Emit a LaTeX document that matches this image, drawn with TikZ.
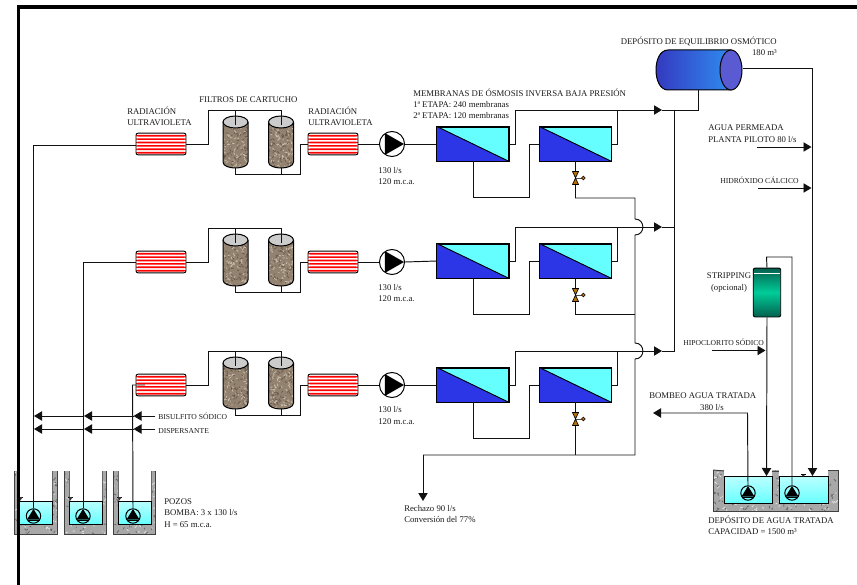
\documentclass[tikz,border=0pt]{standalone}
\usepackage{fontspec}
\setmainfont{Liberation Serif}
\usetikzlibrary{arrows.meta,shapes.geometric,calc}
\definecolor{memdark}{HTML}{2D36E6}
\definecolor{memlight}{HTML}{66FFFF}
\definecolor{valvec}{HTML}{B86E00}
\definecolor{pipec}{HTML}{111111}
\definecolor{gravel}{HTML}{93826F}
\definecolor{gravelL}{HTML}{C8BCAC}
\definecolor{gravelD}{HTML}{6A5B4E}
\definecolor{conc}{HTML}{A8A8A8}
\definecolor{tankL}{HTML}{3535BE}
\definecolor{tankR}{HTML}{2F8CF0}
\definecolor{tankE}{HTML}{5A5AD2}
\definecolor{stripD}{HTML}{04604E}
\definecolor{stripM}{HTML}{00CC99}
\tikzset{
 pipe/.style={line width=.72pt,draw=pipec},
 tip/.style={pipe,-{Triangle[length=6pt,width=7pt]}},
 lab/.style={font=\fontsize{6.55}{7}\selectfont,anchor=west,inner sep=0pt,text=black!90},
 slab/.style={font=\fontsize{5.7}{6}\selectfont,anchor=west,inner sep=0pt,text=black!90},
 uvbox/.style={draw=black,line width=.7pt,rounded corners=1.5pt,minimum width=37.5pt,minimum height=16.2pt,inner sep=0pt,fill=white,
   path picture={\foreach \k in {1,...,6}{\fill[red] ([yshift={-\k*2.55pt+1.3pt}]path picture bounding box.north west) rectangle ([yshift={-\k*2.55pt+0.05pt}]path picture bounding box.north east);}}},
 fnode/.style={minimum width=18.75pt,minimum height=39pt,inner sep=0pt},
 pumpbig/.style={circle,draw=black,line width=.75pt,fill=white,minimum size=18.8pt,inner sep=0pt},
 pumpsmall/.style={circle,draw=black,line width=.75pt,minimum size=10.8pt,inner sep=0pt},
 memb/.style={minimum width=53.5pt,minimum height=25.5pt,inner sep=0pt,draw=black,line width=.7pt,fill=memlight},
 water/.style={draw=black,line width=.7pt,top color=memlight!45!white,bottom color=memlight,inner sep=0pt},
 valvenode/.style={minimum width=4.5pt,minimum height=9.5pt,inner sep=0pt},
}
\newcommand\spk[7]{\foreach \i in {1,...,#5}{%
  \pgfmathsetmacro\spX{(#1)+((#3)-(#1))*rnd}\pgfmathsetmacro\spY{(#2)+((#4)-(#2))*rnd}%
  \pgfmathsetmacro\spA{2.6*rand}\pgfmathsetmacro\spB{2.6*rand}%
  \ifodd\i\draw[line width=.6pt,#6] (\spX,\spY) -- ++(\spA,\spB);\else\draw[line width=.6pt,#7] (\spX,\spY) -- ++(\spA,\spB);\fi}}
% filter: name, centre x, top y
\newcommand\filt[3]{%
  \begin{scope}
  \clip ({#2-12.5},{#3+6}) -- ({#2+12.5},{#3+6}) -- ({#2+12.5},{#3+46}) .. controls ({#2+12.5},{#3+54}) and ({#2-12.5},{#3+54}) .. ({#2-12.5},{#3+46}) -- cycle;
  \fill[gravel] ({#2-13},{#3}) rectangle ({#2+13},{#3+53});
  \spk{#2-13}{#3+2}{#2+13}{#3+53}{170}{gravelL}{gravelD}
  \end{scope}
  \draw[line width=.75pt] ({#2-12.5},{#3+6}) -- ({#2-12.5},{#3+46}) .. controls ({#2-12.5},{#3+54}) and ({#2+12.5},{#3+54}) .. ({#2+12.5},{#3+46}) -- ({#2+12.5},{#3+6});
  \draw[line width=.75pt,fill=black!20] (#2,{#3+6}) ellipse [x radius=12.5,y radius=6];
  \node[fnode] (#1) at (#2,{#3+26}) {};}
% membrane: name, centre x, centre y
\newcommand\memb[3]{%
  \node[memb] (#1) at (#2,#3) {};
  \fill[memdark] (#1.north west) -- (#1.south east) -- (#1.south west) -- cycle;
  \draw[line width=.7pt] (#1.north west) -- (#1.south east);
  \draw[line width=.7pt] (#1.north west) rectangle (#1.south east);}
% valve: name, x, y
\newcommand\valve[3]{%
  \node[valvenode] (#1) at (#2,#3) {};
  \draw[line width=.5pt,fill=valvec] (#1.center) -- ({#2-3},{#3-6.5}) -- ({#2+3},{#3-6.5}) -- cycle;
  \draw[line width=.5pt,fill=valvec] (#1.center) -- ({#2-3},{#3+6.5}) -- ({#2+3},{#3+6.5}) -- cycle;
  \draw[line width=.5pt,black!70] (#1.center) -- ({#2+6.5},#3);
  \draw[line width=.4pt,fill=orange!85!black] ({#2+7.8},#3) circle [radius=1.9];}
% small pump: name, x, y
\newcommand\spump[3]{%
  \node[pumpsmall] (#1) at (#2,#3) {};
  \fill ({#2},{#3-7}) -- ({#2-6.5},{#3+3.6}) -- ({#2+6.5},{#3+3.6}) -- cycle;
  \draw[line width=.5pt] ({#2-6},{#3+4.6}) -- ({#2+6},{#3+4.6});}
% well: suffix, xl, xr, pump x
\newcommand\well[4]{%
  \begin{scope}
  \clip (#2,471) -- (#2,534) -- (#3,534) -- (#3,471) -- ({#3-4.5},471) -- ({#3-4.5},525) -- ({#2+4.5},525) -- ({#2+4.5},471) -- cycle;
  \fill[conc] (#2,471) rectangle (#3,534);
  \spk{#2}{471}{#3}{534}{130}{white!90!black}{black!60}
  \end{scope}
  \draw[line width=.7pt,black!75] (#2,471) -- (#2,534) -- (#3,534) -- (#3,471);
  \draw[line width=.5pt,black!60] ({#2+4.5},471) -- ({#2+4.5},525) ({#3-4.5},471) -- ({#3-4.5},525);
  \node[water,minimum width={(#3-#2-9)*.75pt},minimum height=17.2pt] (water#1) at ({(#2+#3)/2},512.5) {};
  \spump{well#1}{#4}{516}
  \draw[line width=.5pt] ({#2+3.5},497) -- ({#2+8.5},497);
  \fill[black!80] ({#2+4},497) -- ({#2+8},497) -- ({#2+6},500.5) -- cycle;}
\begin{document}
\begin{tikzpicture}[x=.75pt,y=-.75pt]
\useasboundingbox (0,0) rectangle (857,585);
\pgfmathsetseed{4711}
% wells
\well{a}{14.5}{57}{33.5}
\well{b}{64.5}{106.5}{83}
\well{c}{113.5}{155.5}{133}
% rows
\foreach \r/\yy/\my in {a/144/144,b/262/261,c/385/385}{
  \node[uvbox] (uvin\r) at (161,\yy) {};
  \node[uvbox] (uvout\r) at (333,\yy) {};
  \filt{fl\r}{235.5}{\yy-28}
  \filt{fr\r}{281}{\yy-28}
  \node[pumpbig] (pump\r) at (392,\yy) {};
  \fill ($(pump\r)+(-7.2,-11)$) -- ($(pump\r)+(12,0)$) -- ($(pump\r)+(-7.2,11)$) -- cycle;
  \memb{ma\r}{473}{\my}
  \memb{mb\r}{575.5}{\my}
  \coordinate (up\r) at (208,{\yy-34});
  \coordinate (upl\r) at (235.5,{\yy-34});
  \coordinate (upr\r) at (281,{\yy-34});
  \coordinate (inl\r) at (235.5,{\yy-19});
  \coordinate (inr\r) at (281,{\yy-19});
  \coordinate (dnr\r) at (300,{\yy+30});
  \coordinate (dnm\r) at (281,{\yy+30});
  \coordinate (dnl\r) at (235.5,{\yy+30});
  \coordinate (ma\r x) at (515,{\my-34});
  \coordinate (mbj\r) at (617,{\my-34});
  \coordinate (ret\r) at (529,{\my+53});
  \draw[pipe] (uvin\r.east) -| (up\r) -- (upr\r) -- (inr\r);
  \draw[pipe] (upl\r) -- (inl\r);
  \draw[pipe] (fl\r.south) -- (dnl\r) -- (dnr\r) |- (uvout\r.west);
  \draw[pipe] (fr\r.south) -- (dnm\r);
  \draw[pipe] (uvout\r.east) -- (pump\r.west);
  \draw[pipe] (pump\r.east) -- (ma\r.west);
  \draw[pipe] (ma\r.east) -| (ma\r x);
  \draw[pipe] (ma\r.south) |- (ret\r) |- (mb\r.west);
  \draw[pipe] (mb\r.east) -| (mbj\r);
  \valve{valve\r}{575.5}{\my+34}
  \draw[pipe] (mb\r.south) -- (valve\r.north);
}
% named junctions of the collectors
\coordinate (tipa) at (662,110);
\coordinate (tipb) at (662,227);
\coordinate (tipc) at (662,351);
\coordinate (joina) at (674.5,110);
\coordinate (joinb) at (674.5,227);
\coordinate (joinc) at (674.5,351);
\draw[tip] (maax) -- (tipa);
\draw[pipe] (tipa) -- (joina);
\draw[tip] (mabx) -- (tipb);
\draw[pipe] (tipb) -- (joinb);
\draw[tip] (macx) -- (tipc);
\draw[pipe] (tipc) -- (joinc);
\draw[pipe] (joina) -- (joinc);
% tank
\node[minimum width=63.75pt,minimum height=30pt,inner sep=0pt] (tank) at (698.5,70) {};
\draw[line width=.75pt,left color=tankL,right color=tankR] (668,50) -- (731,50) -- (731,90) -- (668,90) .. controls (652,90) and (652,50) .. (668,50) -- cycle;
\node[ellipse,draw=black,line width=.75pt,fill=tankE,minimum width=16.5pt,minimum height=30pt,inner sep=0pt] (tankend) at (731,70) {};
\coordinate (tanklow) at (698.5,110);
\draw[pipe] (tank.south) -- (tanklow) -- (joina);
% reject collector
\coordinate (rej1) at (575.5,198);
\coordinate (rej2) at (635,198);
\coordinate (rej3) at (575.5,314);
\coordinate (rej4) at (635,314);
\coordinate (rej5) at (575.5,455);
\coordinate (rej6) at (635,455);
\coordinate (rej7) at (423,455);
\coordinate (rejend) at (423,501);
\draw[pipe] (valvea.south) -- (rej1) -- (rej2) -- (635,219) .. controls (645.5,219) and (645.5,235) .. (635,235) -- (rej4) -- (635,343) .. controls (645.5,343) and (645.5,359) .. (635,359) -- (rej6) -- (rej7);
\draw[pipe] (valveb.south) -- (rej3) -- (rej4);
\draw[pipe] (valvec.south) -- (rej5);
\draw[tip] (rej7) -- (rejend);
% inlet pipes
\coordinate (ina) at (33.5,145);
\coordinate (inb) at (83,262);
\coordinate (inc) at (132.5,385);
\coordinate (incend) at (145,385);
\draw[pipe] (wella.north) -- (ina) -- (uvina.west |- ina);
\draw[pipe] (wellb.north) -- (inb) -- (uvinb.west);
\draw[pipe] (wellc.north) -- (inc) -- (incend);
% chemical feeds
\coordinate (bis0) at (155,416); \coordinate (bis1) at (133.5,416); \coordinate (bis2) at (84,416); \coordinate (bis3) at (34,416);
\coordinate (dis0) at (155,429); \coordinate (dis1) at (133.5,429); \coordinate (dis2) at (84,429); \coordinate (dis3) at (34,429);
\draw[tip] (bis0) -- (bis1); \draw[tip] (bis1) -- (bis2); \draw[tip] (bis2) -- (bis3);
\draw[tip] (dis0) -- (dis1); \draw[tip] (dis1) -- (dis2); \draw[tip] (dis2) -- (dis3);
% treated water tank
\begin{scope}
\clip (713,470) rectangle (838,511);
\fill[conc] (713,470) rectangle (838,511);
\spk{713}{470}{838}{511}{320}{white!90!black}{black!60}
\end{scope}
\fill[white] (724,468) rectangle (772,476.5);
\fill[white] (779,468) rectangle (828,476.5);
\draw[line width=.7pt,black!75] (713,470) -- (713,511) -- (838,511) -- (838,470) -- (828,470);
\draw[line width=.7pt,black!75] (713,470) -- (724,471);
\draw[line width=.7pt,black!75] (772,471) -- (779,471);
\node[water,minimum width=36pt,minimum height=20.6pt] (wtl) at (748,490.2) {};
\node[water,minimum width=36.7pt,minimum height=20.6pt] (wtr) at (803.5,490.2) {};
\spump{ptl}{748}{493}
\spump{ptr}{792}{493}
\draw[line width=.5pt] (801,474.5) -- (805.5,474.5);
\fill[black!80] (801.3,474.5) -- (805.2,474.5) -- (803.2,477) -- cycle;
% stripping
\node[rounded corners=1.5pt,draw=black,line width=.7pt,minimum width=20.6pt,minimum height=36.7pt,inner sep=0pt,top color=stripD,bottom color=stripD,middle color=stripM] (strip) at (767,292.5) {};
\draw[white,line width=.7pt] (754,273) -- (780,273);
\coordinate (stripa) at (766.5,257);
\coordinate (stripb) at (792,257);
\coordinate (stripdn) at (766.5,476);
\draw[pipe] (strip.north) -- (stripa) -- (stripb) -- (ptr.north);
\draw[tip] (strip.south) -- (stripdn);
% permeate main
\coordinate (perm1) at (812.5,68.5);
\coordinate (permdn) at (812.5,476);
\draw[pipe] (tankend.east |- perm1) -- (perm1);
\draw[tip] (perm1) -- (permdn);
% side feeds
\coordinate (ag0) at (757,147); \coordinate (ag1) at (811.5,147);
\coordinate (hi0) at (758,188); \coordinate (hi1) at (811.5,188);
\coordinate (ho0) at (712,350.5); \coordinate (ho1) at (765.5,350.5);
\draw[tip] (ag0) -- (ag1);
\draw[tip] (hi0) -- (hi1);
\draw[tip] (ho0) -- (ho1);
% treated pump out
\coordinate (bo1) at (747.5,413);
\coordinate (bo2) at (653,413);
\draw[tip] (ptl.north) -- (bo1) -- (bo2);
% text
\node[lab] (t1) at (127,111) {RADIACIÓN};
\node[lab] (t2) at (127,123) {ULTRAVIOLETA};
\node[lab] (t3) at (199,100) {FILTROS DE CARTUCHO};
\node[lab] (t4) at (308,111) {RADIACIÓN};
\node[lab] (t5) at (308,123) {ULTRAVIOLETA};
\node[lab] (t6) at (413,92.5) {MEMBRANAS DE ÓSMOSIS INVERSA BAJA PRESIÓN};
\node[lab] (t7) at (413,105) {1ª ETAPA: 240 membranas};
\node[lab] (t8) at (413,116) {2ª ETAPA: 120 membranas};
\node[lab] (t9) at (620.5,41) {DEPÓSITO DE EQUILIBRIO OSMÓTICO};
\node[lab,anchor=east] (t10) at (777,52.5) {180 m³};
\node[lab] (t11) at (708,128) {AGUA PERMEADA};
\node[lab] (t12) at (708,140) {PLANTA PILOTO 80 l/s};
\node[slab] (t13) at (720,180.5) {HIDRÓXIDO CÁLCICO};
\node[lab,anchor=center] (t14) at (729,276) {STRIPPING};
\node[lab,anchor=center] (t15) at (729,288.5) {(opcional)};
\node[slab] (t16) at (683,342) {HIPOCLORITO SÓDICO};
\node[lab] (t17) at (649,396) {BOMBEO AGUA TRATADA};
\node[lab,anchor=center] (t18) at (712,408) {380 l/s};
\node[lab] (t19) at (708,520) {DEPÓSITO DE AGUA TRATADA};
\node[lab] (t20) at (708,532) {CAPACIDAD = 1500 m³};
\node[lab] (t21) at (404,509) {Rechazo 90 l/s};
\node[lab] (t22) at (404,520) {Conversión del 77\%};
\node[lab] (t23) at (164,502) {POZOS};
\node[lab] (t24) at (164,513) {BOMBA: 3 x 130 l/s};
\node[lab] (t25) at (164,525) {H = 65 m.c.a.};
\node[slab] (t26) at (158,416) {BISULFITO SÓDICO};
\node[slab] (t27) at (158,431) {DISPERSANTE};
\node[lab] (t28) at (378,171) {130 l/s};
\node[lab] (t29) at (378,182) {120 m.c.a.};
\node[lab] (t30) at (378,288) {130 l/s};
\node[lab] (t31) at (378,299) {120 m.c.a.};
\node[lab] (t32) at (378,410) {130 l/s};
\node[lab] (t33) at (378,422) {120 m.c.a.};
% frame
\draw[line width=2.4pt,black] (857,7) -- (18.5,7) -- (18.5,585);
\end{tikzpicture}
\end{document}
